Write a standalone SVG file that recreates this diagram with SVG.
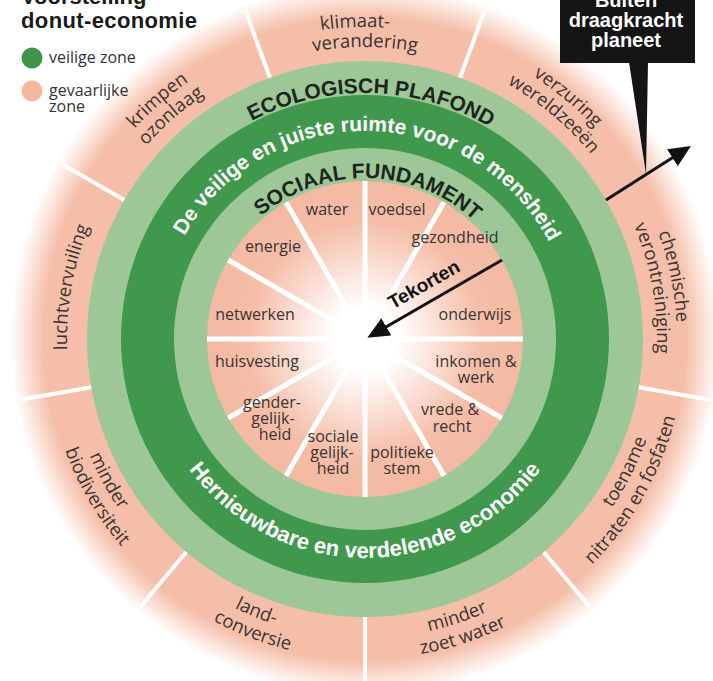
<svg xmlns="http://www.w3.org/2000/svg" width="713" height="681" viewBox="0 0 713 681">
<defs>
<style>
.os{font-family:"Open Sans","Liberation Sans",sans-serif;fill:#3a3432}
.out{font-size:18.5px;text-anchor:middle}
.in{font-size:16px;text-anchor:middle}
.leg{font-size:16px;fill:#333333}
.bd{font-family:"Liberation Sans",Arial,sans-serif;font-weight:bold}
.ring{font-size:21px;text-anchor:middle}
.wt{fill:#ffffff}
.dk{fill:#1c261d}
.sp{stroke:#ffffff;stroke-width:4;fill:none}
.isp{stroke:#ffffff;stroke-width:5;fill:none}
.arr{stroke:#111111;stroke-width:3;fill:none;marker-end:url(#ah)}
</style>
<radialGradient id="gOut" gradientUnits="userSpaceOnUse" cx="365" cy="339" r="355">
<stop offset="0" stop-color="#f5bea8"/>
<stop offset="0.905" stop-color="#f5bea8"/>
<stop offset="1" stop-color="#f5bea8" stop-opacity="0"/>
</radialGradient>
<radialGradient id="gIn" gradientUnits="userSpaceOnUse" cx="365" cy="339" r="158">
<stop offset="0" stop-color="#ffffff"/>
<stop offset="0.2" stop-color="#ffffff"/>
<stop offset="0.75" stop-color="#f5bda7"/>
<stop offset="1" stop-color="#f4b9a2"/>
</radialGradient>
<marker id="ah" viewBox="0 0 22 20" refX="7" refY="10" markerWidth="22" markerHeight="20" markerUnits="userSpaceOnUse" orient="auto">
<path d="M0,0 L22,10 L0,20 z" fill="#111111"/>
</marker>
<path id="t312" d="M57.74 284.82 A312 312 0 0 1 672.26 284.82"/>
<path id="t292" d="M77.44 288.29 A292 292 0 0 1 652.56 288.29"/>
<path id="t298" d="M71.53 287.25 A298 298 0 0 1 658.47 287.25"/>
<path id="t246" d="M122.74 296.28 A246 246 0 0 1 607.26 296.28"/>
<path id="t208" d="M160.16 302.88 A208 208 0 0 1 569.84 302.88"/>
<path id="t161" d="M206.45 311.04 A161 161 0 0 1 523.55 311.04"/>
<path id="b299" d="M70.54 390.92 A299 299 0 0 0 659.46 390.92"/>
<path id="b320" d="M49.86 394.57 A320 320 0 0 0 680.14 394.57"/>
<path id="b219" d="M149.33 377.03 A219 219 0 0 0 580.67 377.03"/>
</defs>
<rect width="713" height="681" fill="#ffffff"/>

<g id="ring-outer">
<circle cx="365" cy="339" r="355" fill="url(#gOut)"/>
<line class="sp" x1="460.08" y1="77.77" x2="484.71" y2="10.11"/>
<line class="sp" x1="269.92" y1="77.77" x2="245.29" y2="10.11"/>
<line class="sp" x1="124.24" y1="200" x2="61.89" y2="164"/>
<line class="sp" x1="638.78" y1="387.27" x2="709.68" y2="399.78"/>
<line class="sp" x1="91.22" y1="387.27" x2="20.32" y2="399.78"/>
<line class="sp" x1="543.70" y1="551.96" x2="589.98" y2="607.11"/>
<line class="sp" x1="186.30" y1="551.96" x2="140.02" y2="607.11"/>
<line class="sp" x1="365" y1="617" x2="365" y2="689"/>
</g>
<g id="ring-ecologisch">
<circle cx="365" cy="339" r="278" fill="#9ec797"/>
</g>
<g id="ring-veilig">
<circle cx="365" cy="339" r="244" fill="#40984c"/>
</g>
<g id="ring-sociaal">
<circle cx="365" cy="339" r="191" fill="#9ec797"/>
</g>
<g id="core">
<circle cx="365" cy="339" r="158" fill="url(#gIn)"/>
<line class="isp" x1="365" y1="339" x2="365" y2="181"/>
<line class="isp" x1="365" y1="339" x2="444" y2="202.17"/>
<line class="isp" x1="365" y1="339" x2="523" y2="339"/>
<line class="isp" x1="365" y1="339" x2="501.83" y2="418"/>
<line class="isp" x1="365" y1="339" x2="444" y2="475.83"/>
<line class="isp" x1="365" y1="339" x2="365" y2="497"/>
<line class="isp" x1="365" y1="339" x2="286" y2="475.83"/>
<line class="isp" x1="365" y1="339" x2="228.17" y2="418"/>
<line class="isp" x1="365" y1="339" x2="207" y2="339"/>
<line class="isp" x1="365" y1="339" x2="228.17" y2="260"/>
<line class="isp" x1="365" y1="339" x2="286" y2="202.17"/>
</g>

<g id="title">
<text class="bd" x="21" y="4" font-size="22" fill="#1a1a1a">Voorstelling</text>
<text class="bd" x="21" y="28" font-size="22" fill="#1a1a1a" textLength="176">donut-economie</text>
</g>
<g id="legend">
<circle cx="32" cy="58" r="10.5" fill="#3d9447"/>
<text class="os leg" x="49" y="63">veilige zone</text>
<circle cx="32" cy="91" r="10.5" fill="#f3b9a1"/>
<text class="os leg" x="49" y="96">gevaarlijke</text>
<text class="os leg" x="49" y="112">zone</text>
</g>

<g id="lbl-klimaat">
<text class="os out" transform="rotate(-1.8 365 339)"><textPath href="#t312" startOffset="50%">klimaat-</textPath></text>
<text class="os out"><textPath href="#t292" startOffset="50%">verandering</textPath></text>
</g>
<g id="lbl-verzuring">
<text class="os out" transform="rotate(40 365 339)"><textPath href="#t312" startOffset="50%">verzuring</textPath></text>
<text class="os out" transform="rotate(40 365 339)"><textPath href="#t292" startOffset="50%">wereldzeeën</textPath></text>
</g>
<g id="lbl-chemisch">
<text class="os out" transform="rotate(78.5 365 339)"><textPath href="#t312" startOffset="50%">chemische</textPath></text>
<text class="os out" transform="rotate(80 365 339)"><textPath href="#t292" startOffset="50%">verontreiniging</textPath></text>
</g>
<g id="lbl-nitraten">
<text class="os out" transform="rotate(-63 365 339)"><textPath href="#b299" startOffset="50%">toename</textPath></text>
<text class="os out" transform="rotate(-60.5 365 339)"><textPath href="#b320" startOffset="50%">nitraten en fosfaten</textPath></text>
</g>
<g id="lbl-zoetwater">
<text class="os out" transform="rotate(-18.3 365 339)"><textPath href="#b299" startOffset="50%">minder</textPath></text>
<text class="os out" transform="rotate(-18.2 365 339)"><textPath href="#b320" startOffset="50%">zoet water</textPath></text>
</g>
<g id="lbl-land">
<text class="os out" transform="rotate(21.7 365 339)"><textPath href="#b299" startOffset="50%">land-</textPath></text>
<text class="os out" transform="rotate(21 365 339)"><textPath href="#b320" startOffset="50%">conversie</textPath></text>
</g>
<g id="lbl-biodiversiteit">
<text class="os out" transform="rotate(61.1 365 339)"><textPath href="#b299" startOffset="50%">minder</textPath></text>
<text class="os out" transform="rotate(59.6 365 339)"><textPath href="#b320" startOffset="50%">biodiversiteit</textPath></text>
</g>
<g id="lbl-lucht">
<text class="os out" transform="rotate(-80 365 339)"><textPath href="#t298" startOffset="50%">luchtvervuiling</textPath></text>
</g>
<g id="lbl-ozon">
<text class="os out" transform="rotate(-41 365 339)"><textPath href="#t312" startOffset="50%">krimpen</textPath></text>
<text class="os out" transform="rotate(-41 365 339)"><textPath href="#t292" startOffset="50%">ozonlaag</textPath></text>
</g>

<g id="ring-texts">
<text class="bd ring dk" transform="rotate(1.5 365 339)"><textPath href="#t246" startOffset="50%">ECOLOGISCH PLAFOND</textPath></text>
<text class="bd ring wt" transform="rotate(1 365 339)"><textPath href="#t208" startOffset="50%">De veilige en juiste ruimte voor de mensheid</textPath></text>
<text class="bd ring dk" transform="rotate(1.2 365 339)"><textPath href="#t161" startOffset="50%">SOCIAAL FUNDAMENT</textPath></text>
<text class="bd ring wt" font-size="22" style="font-size:22px"><textPath href="#b219" startOffset="50%">Hernieuwbare en verdelende economie</textPath></text>
</g>

<g id="core-labels">
<text class="os in" x="327" y="215">water</text>
<text class="os in" x="397" y="215">voedsel</text>
<text class="os in" x="455" y="243">gezondheid</text>
<text class="os in" x="273" y="252">energie</text>
<text class="os in" x="255" y="320">netwerken</text>
<text class="os in" x="475" y="320">onderwijs</text>
<text class="os in" x="257" y="367">huisvesting</text>
<text class="os in" x="476" y="367">inkomen &amp;</text>
<text class="os in" x="476" y="383">werk</text>
<text class="os in" x="272" y="408">gender-</text>
<text class="os in" x="273" y="424">gelijk-</text>
<text class="os in" x="275" y="440">heid</text>
<text class="os in" x="450" y="415">vrede &amp;</text>
<text class="os in" x="452" y="432">recht</text>
<text class="os in" x="333" y="442">sociale</text>
<text class="os in" x="332" y="458">gelijk-</text>
<text class="os in" x="333" y="474">heid</text>
<text class="os in" x="402" y="458">politieke</text>
<text class="os in" x="402" y="474">stem</text>
</g>

<g id="callout">
<rect x="560" y="-5" width="135" height="68" fill="#151515"/>
<polygon points="629,62 648,62 646,174" fill="#151515"/>
<text class="bd" x="626" y="7" font-size="20" fill="#ffffff" text-anchor="middle">Buiten</text>
<text class="bd" x="626" y="27" font-size="20" fill="#ffffff" text-anchor="middle">draagkracht</text>
<text class="bd" x="626" y="47" font-size="20" fill="#ffffff" text-anchor="middle">planeet</text>
</g>

<g id="connectors">
<line class="arr" x1="606" y1="200" x2="678.3" y2="154"/>
<line class="arr" x1="502" y1="260" x2="380.3" y2="330.3"/>
<text class="bd" transform="translate(427 290) rotate(-29.5)" font-size="19" fill="#111111" text-anchor="middle">Tekorten</text>
</g>
</svg>
